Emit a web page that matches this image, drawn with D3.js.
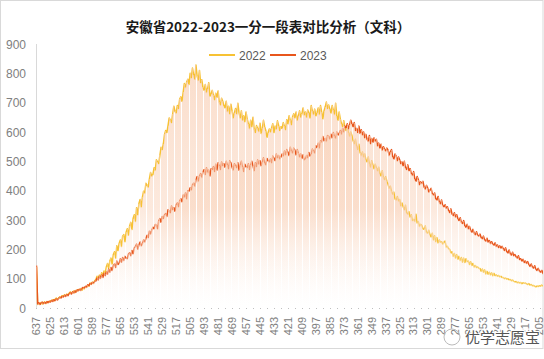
<!DOCTYPE html>
<html><head><meta charset="utf-8">
<script src="https://cdn.jsdelivr.net/npm/d3@7"></script>
<style>body{margin:0;background:#fff}svg{display:block;font-family:"Microsoft YaHei","Noto Sans CJK SC","Noto Sans",sans-serif}</style>
</head><body><div id="chart"></div>
<script>
const title = "安徽省2022-2023一分一段表对比分析（文科）";
const seriesNames = ["2022", "2023"];
const scoreHigh = 637, scoreLow = 201;
const categories = d3.range(scoreHigh, scoreLow - 1, -1).map(String);
const tickLabels = ["637","625","613","601","589","577","565","553","541","529","517","505","493","481","469","457","445","433","421","409","397","385","373","361","349","337","325","313","301","289","277","265","253","241","229","217","205"];
const yTicks = [0,100,200,300,400,500,600,700,800,900];

const values2022 = [140,
12,16,14,19,13,17,21,15,18,22,
20,25,23,28,24,30,34,29,33,38,
36,42,39,45,41,47,44,50,55,49,
53,58,52,60,57,63,61,66,60,68,
65,72,70,77,74,85,80,88,84,93,
96,108,101,112,104,120,109,126,117,140,
152,134,160,170,150,182,192,170,212,196,
220,232,210,245,250,226,258,270,248,280,
292,268,305,318,295,342,318,356,370,345,
378,398,392,425,418,412,440,462,450,455,
478,470,505,498,492,520,548,540,560,592,
605,598,622,648,640,632,662,688,670,665,
690,680,712,720,705,735,765,752,770,780,
762,800,785,818,795,780,828,790,776,810,
768,778,752,742,762,735,748,768,722,730,
742,725,710,732,718,740,702,692,715,705,
690,682,705,670,688,662,695,672,648,665,
680,662,698,665,648,672,640,655,635,668,
645,628,612,640,618,650,610,598,622,612,
602,630,595,612,640,618,605,582,598,610,
600,615,628,598,620,610,638,622,605,618,
612,632,620,608,642,628,655,640,625,652,
662,648,668,640,655,672,650,662,682,658,
668,650,675,665,648,690,672,660,678,655,
665,682,660,690,668,645,672,685,702,680,
692,678,665,690,675,660,698,655,640,668,
645,628,618,638,612,605,622,598,585,600,
588,570,560,575,552,540,558,530,520,532,
515,525,505,498,515,492,480,502,488,475,
490,478,468,480,458,450,468,445,438,448,
432,422,408,415,398,388,395,372,368,380,
365,370,348,358,345,335,350,325,320,328,
310,318,298,302,295,320,290,295,278,285,
282,270,268,280,258,255,265,250,242,255,
232,246,226,240,222,232,224,226,218,225,
228,208,210,202,200,188,192,176,186,170,
182,166,176,162,172,156,170,155,168,158,
160,148,158,145,152,140,145,138,140,135,
135,125,133,122,130,116,125,115,122,113,
120,110,118,110,113,108,111,106,108,104,
104,100,102,98,100,96,97,93,95,91,
89,90,86,88,85,87,83,86,84,85,
82,80,83,78,80,76,77,74,72,75,
73,76,74,78,75,78];

const values2023 = [145,
14,18,12,17,20,15,19,16,22,18,
23,20,26,22,28,25,31,27,33,36,
34,40,37,43,39,46,42,48,52,47,
55,51,58,54,62,59,64,60,67,70,
68,74,71,79,76,83,81,87,85,90,
92,102,95,108,101,113,104,118,110,123,
115,132,122,138,128,145,150,138,160,148,
152,168,156,172,162,176,170,168,184,188,
178,196,185,205,210,218,200,216,225,212,
220,232,225,238,248,240,262,252,265,275,
270,285,282,270,298,305,292,312,305,318,
322,312,335,330,325,348,335,342,330,352,
358,345,365,372,362,385,378,392,372,400,
398,410,402,420,425,415,438,448,432,450,
458,445,465,472,455,478,462,470,450,475,
472,482,465,490,470,495,485,472,498,485,
492,480,500,488,475,502,495,480,470,492,
485,478,495,470,488,500,480,465,490,482,
478,492,472,488,500,485,468,495,482,505,
490,502,485,498,512,495,488,510,502,498,
508,495,518,510,502,525,512,520,508,515,
525,518,535,522,540,530,520,548,535,528,
545,538,522,540,528,515,525,510,522,505,
508,520,512,530,518,525,542,535,528,552,
548,562,545,570,565,585,570,578,568,588,
585,575,592,580,598,585,578,600,590,595,
605,592,612,600,620,615,628,610,625,640,
628,618,632,605,612,598,620,595,608,590,
600,580,592,575,568,588,560,578,565,580,
568,575,552,562,545,558,538,550,542,535,
545,538,520,532,540,515,508,525,518,502,
515,505,492,498,485,500,478,472,488,468,
475,458,452,465,440,432,448,438,420,430,
425,432,412,405,418,410,395,402,408,390,
385,392,372,368,380,362,355,368,350,345,
352,340,345,332,325,338,320,315,325,310,
318,305,298,308,292,288,298,280,275,285,
270,278,265,258,268,255,250,260,248,245,
252,240,236,245,232,228,238,225,230,220,
226,218,214,222,210,215,206,212,204,210,
202,196,205,192,188,198,185,180,190,178,
182,175,170,178,165,168,160,166,155,160,
152,158,148,142,150,140,136,144,132,128,
135,126,122,128,118,135];

const colors = ["#f7c234", "#e8561c"];

const W = 544, H = 359;
const svg = d3.select("#chart").append("svg").attr("width", W).attr("height", H);

svg.append("rect").attr("x",0.5).attr("y",0.5).attr("width",W-1.5).attr("height",348)
  .attr("fill","#fff").attr("stroke","#d9d9d9");

const x = d3.scalePoint().domain(categories).range([36.5, 36.5 + 1.164*(categories.length-1)]);
const y = d3.scaleLinear().domain([0, 900]).range([308, 44]);

const defs = svg.append("defs");
const grad = defs.append("linearGradient").attr("id","barGrad")
  .attr("gradientUnits","userSpaceOnUse").attr("x1",0).attr("y1",y(850)).attr("x2",0).attr("y2",y(0));
grad.append("stop").attr("offset","0%").attr("stop-color","#f8cdb2").attr("stop-opacity",0.68);
grad.append("stop").attr("offset","60%").attr("stop-color","#f9d3bb").attr("stop-opacity",0.5);
grad.append("stop").attr("offset","100%").attr("stop-color","#ffffff").attr("stop-opacity",0.1);

const clip = defs.append("clipPath").attr("id","plotClip");
clip.append("rect").attr("x",36).attr("y",30).attr("width",W-37).attr("height",279);

// title
svg.append("text").attr("x",268).attr("y",32).attr("text-anchor","middle")
  .attr("font-size",13.5).attr("font-weight","bold").attr("fill","#1a1a1a").text(title);

// legend
const leg = svg.append("g");
const legX = [209, 270];
seriesNames.forEach((n,i)=>{
  leg.append("line").attr("x1",legX[i]).attr("x2",legX[i]+26).attr("y1",55).attr("y2",55)
    .attr("stroke",colors[i]).attr("stroke-width",2);
  leg.append("text").attr("x",legX[i]+30).attr("y",59.5).attr("font-size",12).attr("fill","#595959")
    .attr("font-family","Liberation Sans, Arial, sans-serif").text(n);
});

// y axis
const yAxis = svg.append("g");
yAxis.append("line").attr("x1",36.5).attr("x2",36.5).attr("y1",y(900)).attr("y2",y(0)).attr("stroke","#d9d9d9");
yAxis.selectAll("text.yt").data(yTicks).enter().append("text")
  .attr("x",26).attr("y",d=>y(d)+4.5).attr("text-anchor","end").attr("font-size",12)
  .attr("font-family","Liberation Sans, Arial, sans-serif")
  .attr("fill","#808080").text(d=>d);

const plot = svg.append("g").attr("clip-path","url(#plotClip)");

// lines first
const seriesData = [values2022, values2023];
seriesData.forEach((vals,si)=>{
  const line = d3.line().x((d,i)=>x(categories[i])).y(d=>y(d));
  plot.append("path").datum(vals).attr("d",line).attr("fill","none")
    .attr("stroke",colors[si]).attr("stroke-width",1.5).attr("stroke-linejoin","round");
});

// bars over lines
seriesData.forEach((vals,si)=>{
  plot.append("g").selectAll("rect").data(vals).enter().append("rect")
    .attr("x",(d,i)=>x(categories[i]) - 0.5).attr("width",1)
    .attr("y",d=>y(d)).attr("height",d=>y(0)-y(d))
    .attr("shape-rendering","crispEdges")
    .attr("fill","url(#barGrad)");
});

// x axis dotted
svg.append("line").attr("x1",36).attr("x2",W-1).attr("y1",308.5).attr("y2",308.5)
  .attr("stroke","#bfbfbf").attr("stroke-dasharray","1,6");
svg.append("g").selectAll("text").data(tickLabels).enter().append("text")
  .attr("transform",d=>`translate(${x(d)},317) rotate(-90)`)
  .attr("text-anchor","end").attr("dy","0.35em").attr("font-size",11)
  .attr("font-family","Liberation Sans, Arial, sans-serif")
  .attr("fill","#808080").text(d=>d);

// watermark
const wm = svg.append("g");
wm.append("circle").attr("cx",452).attr("cy",337).attr("r",8).attr("fill","none").attr("stroke","#bbb").attr("stroke-width",1);
wm.append("text").attr("x",465).attr("y",343).attr("font-size",15).attr("fill","#555")
  .attr("stroke","#fff").attr("stroke-width",2).attr("paint-order","stroke").text("优学志愿宝");
</script></body></html>
